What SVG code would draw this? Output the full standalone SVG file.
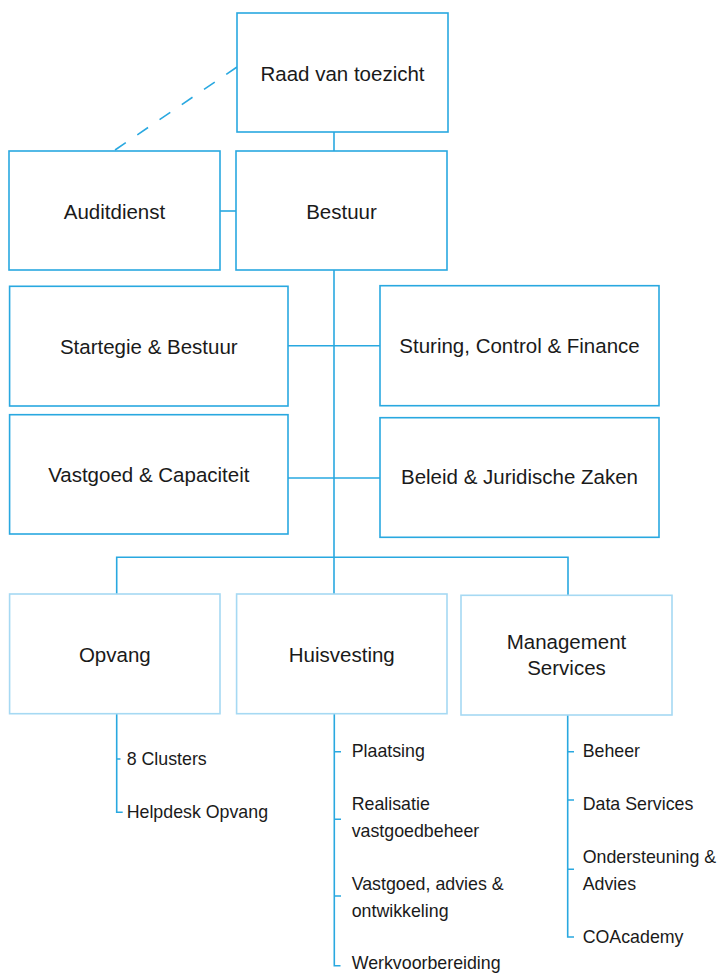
<svg xmlns="http://www.w3.org/2000/svg" width="720" height="973" viewBox="0 0 720 973">
<style>
.box{fill:#fff;stroke:#29a8e0;stroke-width:1.6}
.lbox{fill:#fff;stroke:#a6d9f3;stroke-width:1.6}
.t{font-family:"Liberation Sans",Arial,sans-serif;font-size:20.5px;fill:#1a1a1a;text-anchor:middle}
.s{font-family:"Liberation Sans",Arial,sans-serif;font-size:17.8px;fill:#1a1a1a}
.c{fill:none;stroke:#29a8e0;stroke-width:1.6}
</style>
<rect width="720" height="973" fill="#fff"/>
<g id="connectors">
<path class="c" d="M237,67 L115,150" stroke-dasharray="13 13.9"/>
<path class="c" d="M334,132 V151"/>
<path class="c" d="M220,211 H236"/>
<path class="c" d="M334,270 V594"/>
<path class="c" d="M288,345.7 H380"/>
<path class="c" d="M288,478 H380"/>
<path class="c" d="M116.7,594 V557.3 H568 V595.3"/>
<path class="c" d="M116.7,714 V812.3 H122.7 M116.7,759 H120.5"/>
<path class="c" d="M334.3,714 V965.7 H340.5 M334.3,751.7 H341 M334.3,819.3 H341 M334.3,896 H341"/>
<path class="c" d="M567.7,715 V937 H574 M567.7,751.7 H574 M567.7,800 H574 M567.7,869.3 H574"/>
</g>
<g id="raad"><rect class="box" x="237" y="13" width="211" height="119"/><text class="t" x="342.5" y="81">Raad van toezicht</text></g>
<g id="auditdienst"><rect class="box" x="9" y="151" width="211" height="119"/><text class="t" x="114.5" y="219">Auditdienst</text></g>
<g id="bestuur"><rect class="box" x="236" y="151" width="211" height="119"/><text class="t" x="341.5" y="219">Bestuur</text></g>
<g id="startegie"><rect class="box" x="9.6" y="286.3" width="278.4" height="119.7"/><text class="t" x="148.8" y="354">Startegie &amp; Bestuur</text></g>
<g id="sturing"><rect class="box" x="380" y="285.7" width="279" height="120"/><text class="t" x="519.5" y="352.7">Sturing, Control &amp; Finance</text></g>
<g id="vastgoed"><rect class="box" x="9.6" y="414.7" width="278.4" height="119.3"/><text class="t" x="148.8" y="481.7">Vastgoed &amp; Capaciteit</text></g>
<g id="beleid"><rect class="box" x="380" y="417.7" width="279" height="119.6"/><text class="t" x="519.5" y="484.3">Beleid &amp; Juridische Zaken</text></g>
<g id="opvang"><rect class="lbox" x="9.6" y="594" width="210.4" height="119.7"/><text class="t" x="114.8" y="661.7">Opvang</text></g>
<g id="huisvesting"><rect class="lbox" x="236.6" y="594" width="210.4" height="119.7"/><text class="t" x="341.8" y="661.7">Huisvesting</text></g>
<g id="management"><rect class="lbox" x="461" y="595.3" width="211" height="119.7"/><text class="t" x="566.5" y="649.3">Management</text><text class="t" x="566.5" y="675">Services</text></g>
<g id="opvang-items">
<text class="s" x="126.7" y="765">8 Clusters</text>
<text class="s" x="126.7" y="818">Helpdesk Opvang</text>
</g>
<g id="huisvesting-items">
<text class="s" x="351.7" y="756.7">Plaatsing</text>
<text class="s" x="351.7" y="810">Realisatie</text>
<text class="s" x="351.7" y="836.7">vastgoedbeheer</text>
<text class="s" x="351.7" y="890">Vastgoed, advies &amp;</text>
<text class="s" x="351.7" y="916.7">ontwikkeling</text>
<text class="s" x="351.7" y="969">Werkvoorbereiding</text>
</g>
<g id="management-items">
<text class="s" x="582.7" y="757.3">Beheer</text>
<text class="s" x="582.7" y="810">Data Services</text>
<text class="s" x="582.7" y="863.3">Ondersteuning &amp;</text>
<text class="s" x="582.7" y="890">Advies</text>
<text class="s" x="582.7" y="943">COAcademy</text>
</g>
</svg>
